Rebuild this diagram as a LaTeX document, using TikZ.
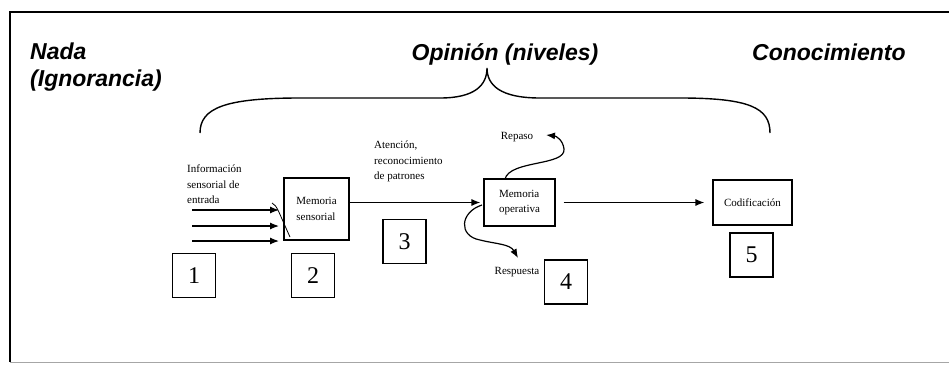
\documentclass[tikz,border=0pt]{standalone}
\usepackage{fontspec}
\setmainfont{Liberation Serif}
\newfontfamily\headfont{Liberation Sans}
\usetikzlibrary{arrows.meta}

\begin{document}
\begin{tikzpicture}[x=1pt,y=1pt,yscale=-1,xscale=1,
  frame/.style={line width=1.4pt},
  procbox/.style={draw,line width=1.1pt,align=left,inner sep=2pt,font=\fontsize{11}{15.5}\selectfont},
  numbox/.style={draw,line width=1.2pt,minimum width=43pt,minimum height=44pt,inner sep=0pt,font=\fontsize{24}{24}\selectfont},
  small/.style={align=left,inner sep=0pt,font=\fontsize{11}{15.5}\selectfont},
  head/.style={inner sep=0pt,font=\headfont\bfseries\itshape\fontsize{23}{27}\selectfont},
  arr/.style={line width=1.2pt,-{Latex[length=9pt,width=7pt]}}]
\useasboundingbox (0,0) rectangle (949,364);

%Shape: outer frame
\draw [frame] (949,12) -- (10,12) -- (10,362);
\draw [line width=0.8pt,black!35] (10,362) -- (949,362);

% Text Node
\node (nada) at (30,43) [head,anchor=north west,align=left] {Nada\\(Ignorancia)};
% Text Node
\node (opinion) at (505,60) [head,anchor=base] {Opinión (niveles)};
% Text Node
\node (conoc) at (752,60) [head,anchor=base west] {Conocimiento};

%Shape: Brace
\draw [line width=1.4pt] (200,133) .. controls (200,108) and (225,98) .. (300,98) -- (440,98) .. controls (475,98) and (487,85) .. (487,68) .. controls (487,85) and (500,98) .. (540,98) -- (680,98) .. controls (750,98) and (770,108) .. (770,133);

% Text Node
\node (entrada) at (187,165) [small,anchor=north west] {Información\\sensorial de\\entrada};
% Text Node
\node (atencion) at (374,141) [small,anchor=north west] {Atención,\\reconocimiento\\de patrones};

%Shape: Rectangle
\node (msens) at (316.5,209) [procbox,minimum width=65pt,minimum height=62pt] {Memoria\\sensorial};
%Shape: Rectangle
\node (mop) at (519.5,202.5) [procbox,minimum width=71pt,minimum height=47pt] {Memoria\\operativa};
%Shape: Rectangle
\node (cod) at (752.5,202.5) [procbox,minimum width=79pt,minimum height=45pt] {Codificación};

% Text Node
\node (repaso) at (517,137) [small] {Repaso};
% Text Node
\node (resp) at (517,272) [small] {Respuesta};

% numbered boxes
\node (n1) at (194,275.5) [numbox] {1};
\node (n2) at (313,275.5) [numbox] {2};
\node (n3) at (404.5,241.5) [numbox] {3};
\node (n4) at (566,282) [numbox] {4};
\node (n5) at (751.5,255) [numbox] {5};

% input arrows
\coordinate (in1) at (192,210); \coordinate (out1) at (279,210);
\coordinate (in2) at (192,226); \coordinate (out2) at (279,226);
\coordinate (in3) at (192,241); \coordinate (out3) at (279,241);
\draw [arr] (in1) -- (out1);
\draw [arr] (in2) -- (out2);
\draw [arr] (in3) -- (out3);
\draw [line width=0.8pt] (272,203) .. controls (277,205) and (279,213) .. (290,237);

% connectors
\draw [arr,shorten >=3pt] (msens.east |- mop.west) -- (mop.west);
\draw [arr,shorten <=8pt,shorten >=8pt] (mop.east) -- (cod.west);
\coordinate (reptip) at (546,135);
\draw [arr] (505,179) .. controls (510,160) and (566,166) .. (564,149) .. controls (563,140) and (556,136) .. (reptip);
\coordinate (resptip) at (518,258);
\draw [arr] (482,205) .. controls (460,212) and (458,236) .. (480,240) .. controls (496,244) and (510,244) .. (resptip);

\end{tikzpicture}
\end{document}
